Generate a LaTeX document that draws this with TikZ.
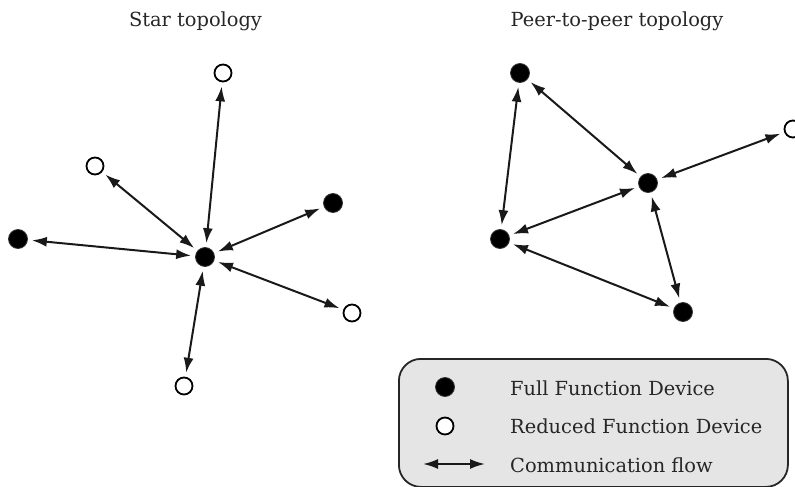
\documentclass[tikz,border=0pt]{standalone}
\usepackage{fontspec}
\setmainfont{DejaVu Serif}
\usetikzlibrary{arrows.meta}
\begin{document}
\begin{tikzpicture}[x=1pt,y=-1pt,
  full/.style={circle,draw=black!80,line width=0.8pt,fill=black,minimum size=19pt,inner sep=0pt},
  open/.style={circle,draw=black,line width=1.8pt,fill=white,minimum size=17pt,inner sep=0pt},
  flow/.style={line width=2pt,draw=black!90,{Latex[length=15pt,width=10pt]}-{Latex[length=15pt,width=10pt]},shorten <=4pt,shorten >=4pt},
  title/.style={font=\fontsize{19.4}{22}\selectfont,text=black!85,anchor=base,inner sep=0pt},
  legtext/.style={font=\fontsize{19.4}{22}\selectfont,text=black!85,anchor=base west,inner sep=0pt}]
\useasboundingbox (0,0) rectangle (795,487);
\clip (0,0) rectangle (795,487);
% titles
\node[title] (t1) at (195.5,27) {Star topology};
\node[title] (t2) at (617,27) {Peer-to-peer topology};
% star
\node[full] (sc) at (205,257) {};
\node[open] (s1) at (223,73) {};
\node[open] (s2) at (95,166) {};
\node[full] (s3) at (333,203) {};
\node[full] (s4) at (18,239) {};
\node[open] (s5) at (352,313) {};
\node[open] (s6) at (184,386) {};
\foreach \n in {s1,s2,s3,s4,s5,s6} \draw[flow] (sc) -- (\n);
% peer
\node[full] (pa) at (520,73) {};
\node[full] (pb) at (648,183) {};
\node[open] (pc) at (793,129) {};
\node[full] (pd) at (500,239) {};
\node[full] (pe) at (683,312) {};
\draw[flow] (pa) -- (pb);
\draw[flow] (pa) -- (pd);
\draw[flow] (pb) -- (pc);
\draw[flow] (pb) -- (pd);
\draw[flow] (pb) -- (pe);
\draw[flow] (pd) -- (pe);
% legend
\node[draw=black!85,line width=1.8pt,fill=black!10,rounded corners=22pt,minimum width=389pt,minimum height=128pt,anchor=north west] (leg) at (398,358) {};
\node[full] (l1) at (445,387) {};
\node[open] (l2) at (445,426) {};
\coordinate (la) at (423,464);
\coordinate (lb) at (485,464);
\draw[flow,shorten <=0pt,shorten >=0pt] (la) -- (lb);
\node[legtext] (lt1) at (510,395) {Full Function Device};
\node[legtext] (lt2) at (510,433) {Reduced Function Device};
\node[legtext] (lt3) at (510,472) {Communication flow};
\end{tikzpicture}
\end{document}
